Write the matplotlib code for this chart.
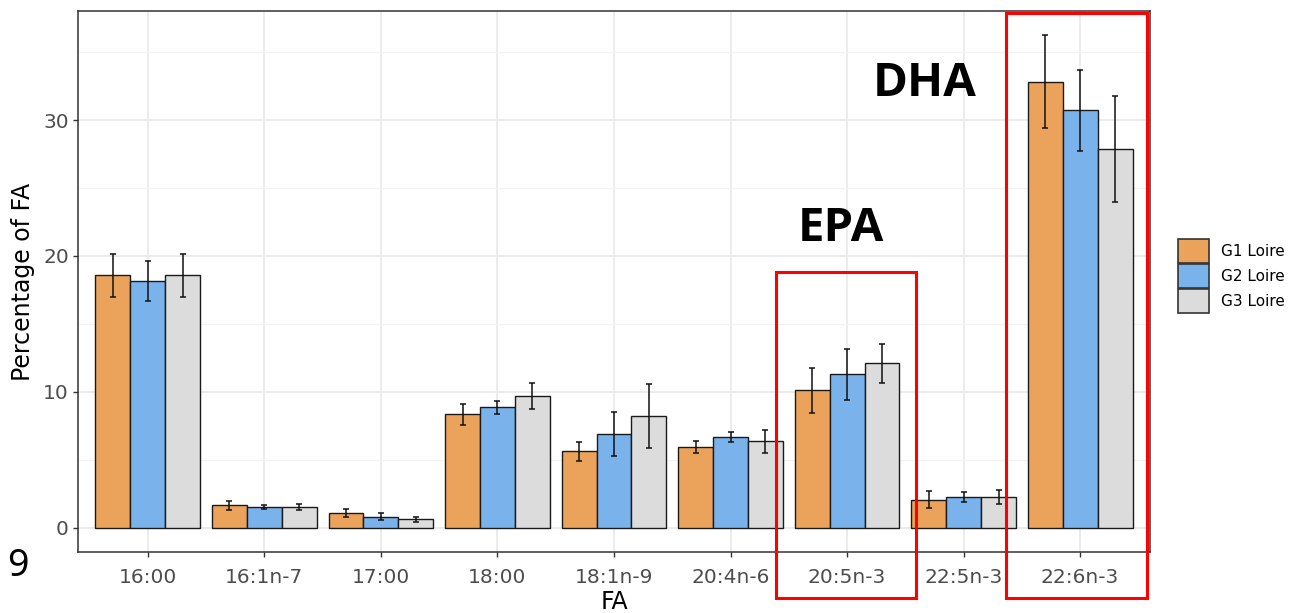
import numpy as np
import matplotlib
matplotlib.use("Agg")
import matplotlib.pyplot as plt
from matplotlib.patches import Rectangle, Patch
from matplotlib.ticker import MultipleLocator

categories = ["16:00", "16:1n-7", "17:00", "18:00", "18:1n-9",
              "20:4n-6", "20:5n-3", "22:5n-3", "22:6n-3"]
groups = ["G1 Loire", "G2 Loire", "G3 Loire"]
g1 = [18.58, 1.65, 1.10, 8.34, 5.62, 5.93, 10.10, 2.06, 32.83]
g1_err = [1.57, 0.33, 0.28, 0.79, 0.68, 0.42, 1.68, 0.63, 3.41]
g2 = [18.16, 1.52, 0.81, 8.85, 6.87, 6.64, 11.28, 2.26, 30.74]
g2_err = [1.47, 0.17, 0.28, 0.47, 1.62, 0.37, 1.88, 0.35, 2.98]
g3 = [18.58, 1.52, 0.62, 9.71, 8.24, 6.35, 12.09, 2.25, 27.90]
g3_err = [1.57, 0.21, 0.20, 0.95, 2.35, 0.85, 1.46, 0.50, 3.90]
colors = ["#EBA35B", "#7AB2EC", "#DCDCDC"]

W, H = 1291, 613
fig = plt.figure(figsize=(W / 100, H / 100), dpi=100)
ax = fig.add_axes([78 / W, 1 - 552.3 / H, (1150 - 78) / W, (552.3 - 10.7) / H])

x = np.arange(len(categories))
bw = 0.3
series = [(g1, g1_err), (g2, g2_err), (g3, g3_err)]
for i, ((vals, errs), col, lab) in enumerate(zip(series, colors, groups)):
    pos = x + (i - 1) * bw
    ax.bar(pos, vals, bw, color=col, edgecolor="#1a1a1a", linewidth=1.0,
           label=lab, zorder=3)
    ax.errorbar(pos, vals, yerr=errs, fmt="none", ecolor="#111111",
                elinewidth=1.1, capsize=2.5, capthick=1.1, zorder=4)

top = max(max(np.array(v) + np.array(e)) for v, e in series)
pad = 0.05 * top
ax.set_ylim(-pad, top + pad)
ax.set_xlim(-0.6, len(categories) - 0.4)

ax.set_xticks(x)
ax.set_xticklabels(categories)
ax.yaxis.set_major_locator(MultipleLocator(10))
ax.yaxis.set_minor_locator(MultipleLocator(5))
ax.grid(True, which="major", color="#EBEBEB", linewidth=1.3, zorder=0)
ax.grid(True, which="minor", axis="y", color="#F2F2F2", linewidth=0.8, zorder=0)
ax.set_axisbelow(True)
for s in ax.spines.values():
    s.set_color("#333333")
    s.set_linewidth(1.1)
ax.tick_params(axis="both", which="major", length=3.6, width=1.0, color="#333333",
               labelsize=14.5, labelcolor="#4D4D4D", pad=3)
ax.tick_params(axis="y", which="minor", length=0)
ax.tick_params(axis="x", pad=8)

ax.set_xlabel("FA", fontsize=17, color="black", labelpad=2)
ax.set_ylabel("Percentage of FA", fontsize=17, color="black", labelpad=6)

handles = [Patch(facecolor=c, edgecolor="#333333", linewidth=1.2) for c in colors]
fig.legend(handles, groups, loc="upper left",
           bbox_to_anchor=(1178 / W, 1 - 239 / H), frameon=False,
           fontsize=11, handlelength=2.0, handleheight=2.0, labelspacing=0.1,
           handletextpad=0.8, borderpad=0, borderaxespad=0)

# annotation boxes (data coords)
ax.add_patch(Rectangle((5.39, -5.2), 1.2, 24.0, fill=False, edgecolor="#FF0000",
                       linewidth=2.2, clip_on=False, zorder=6))
ax.add_patch(Rectangle((7.36, -5.2), 1.21, 43.1, fill=False, edgecolor="#FF0000",
                       linewidth=2.2, clip_on=False, zorder=6))
ax.text(5.95, 22.0, "EPA", fontsize=34, fontweight="bold", family="Open Sans",
        ha="center", va="center", clip_on=False, zorder=7)
ax.text(6.67, 32.7, "DHA", fontsize=34, fontweight="bold", family="Open Sans",
        ha="center", va="center", clip_on=False, zorder=7)

fig.text(18 / W, 1 - 566 / H, "9", fontsize=27, family="Noto Sans",
         ha="center", va="center")

fig.savefig("out.png", dpi=100)
